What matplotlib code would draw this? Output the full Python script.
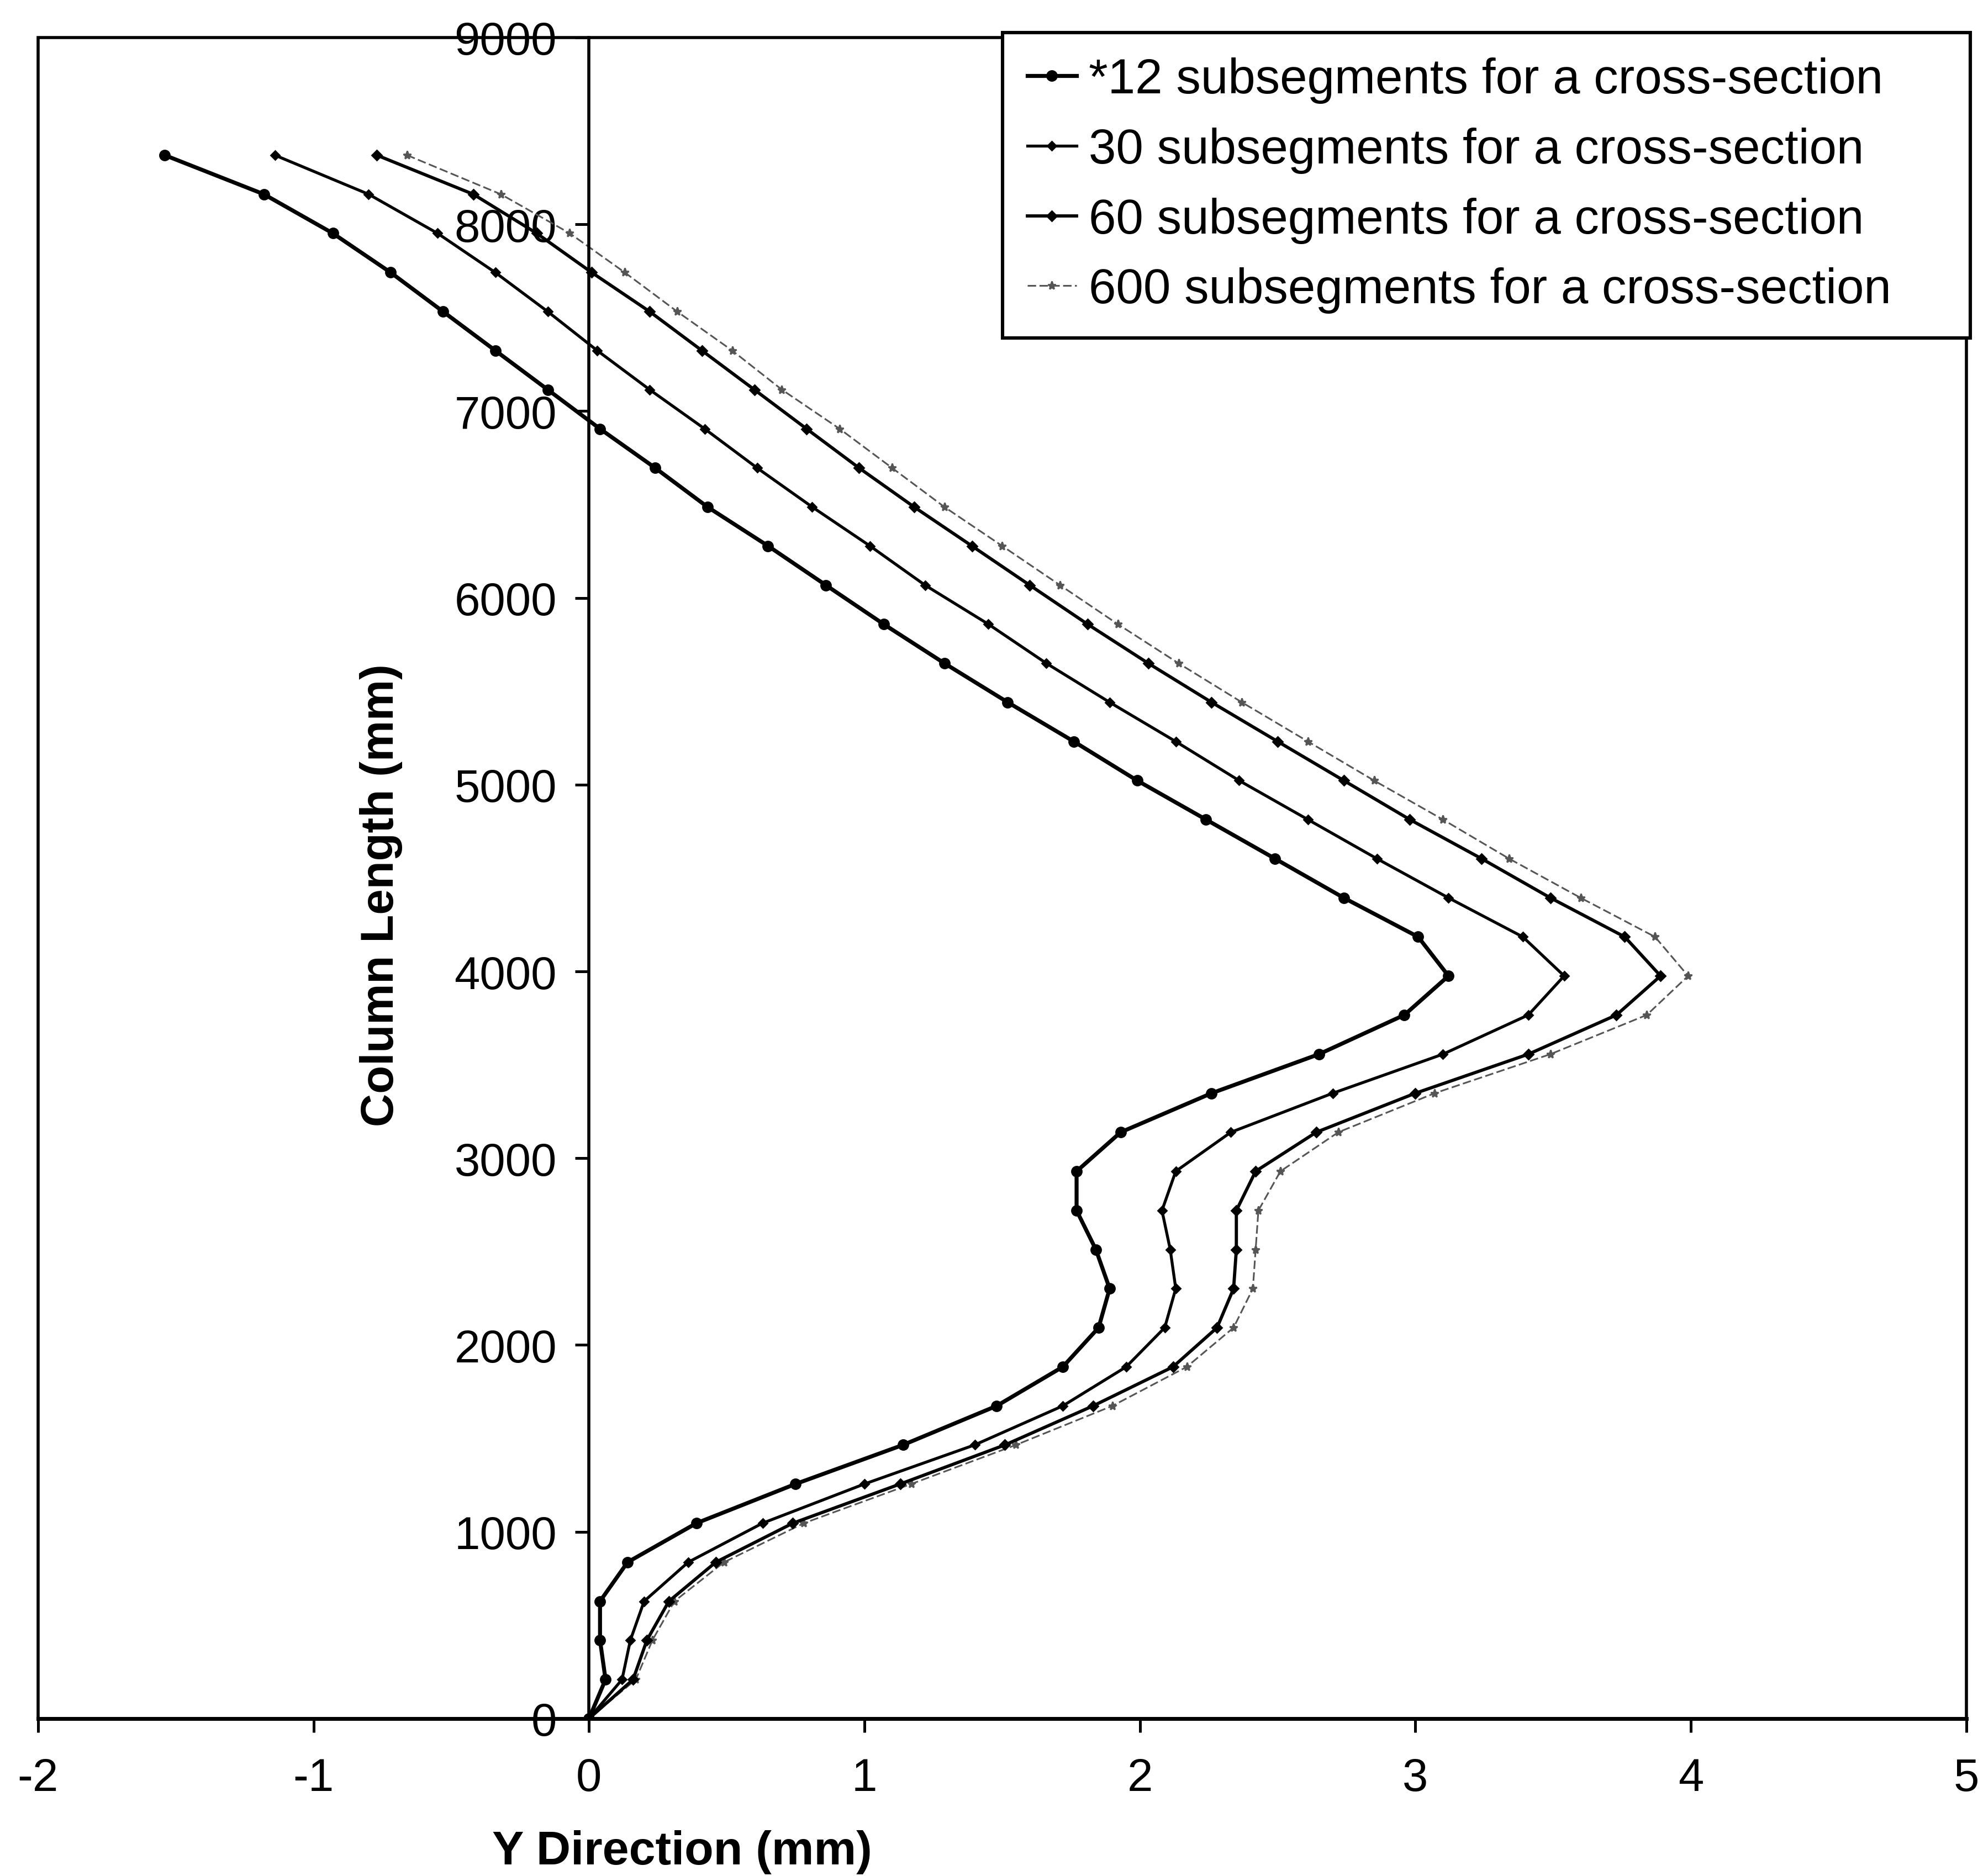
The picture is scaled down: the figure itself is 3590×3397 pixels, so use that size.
"""Column lateral deflection for different cross-section discretisations."""

import matplotlib
matplotlib.use("Agg")
import matplotlib.pyplot as plt
from matplotlib.patches import Rectangle

plt.rcParams["font.family"] = ["Liberation Sans", "DejaVu Sans"]
plt.rcParams["axes.unicode_minus"] = False

# column heights of the sampled nodes (mm)
col_length = [0, 209, 419, 628, 837, 1046, 1256, 1465, 1674, 1883,
              2093, 2302, 2511, 2720, 2930, 3139, 3348, 3557, 3767, 3976,
              4185, 4394, 4604, 4813, 5022, 5231, 5441, 5650, 5859, 6068,
              6278, 6487, 6696, 6905, 7115, 7324, 7533, 7742, 7952, 8161,
              8370]

# Y-direction deflection (mm) per discretisation
seg_12 = [0.00, 0.06, 0.04, 0.04, 0.14, 0.39, 0.75, 1.14, 1.48, 1.72,
          1.85, 1.89, 1.84, 1.77, 1.77, 1.93, 2.26, 2.65, 2.96, 3.12,
          3.01, 2.74, 2.49, 2.24, 1.99, 1.76, 1.52, 1.29, 1.07, 0.86,
          0.65, 0.43, 0.24, 0.04, -0.15, -0.34, -0.53, -0.72, -0.93, -1.18,
          -1.54]
seg_30 = [0.00, 0.12, 0.15, 0.20, 0.36, 0.63, 1.00, 1.40, 1.72, 1.95,
          2.09, 2.13, 2.11, 2.08, 2.13, 2.33, 2.70, 3.10, 3.41, 3.54,
          3.39, 3.12, 2.86, 2.61, 2.36, 2.13, 1.89, 1.66, 1.45, 1.22,
          1.02, 0.81, 0.61, 0.42, 0.22, 0.03, -0.15, -0.34, -0.55, -0.80,
          -1.14]
seg_60 = [0.00, 0.16, 0.21, 0.29, 0.46, 0.74, 1.13, 1.51, 1.83, 2.12,
          2.28, 2.34, 2.35, 2.35, 2.42, 2.64, 3.00, 3.41, 3.73, 3.89,
          3.76, 3.49, 3.24, 2.98, 2.74, 2.50, 2.26, 2.03, 1.81, 1.60,
          1.39, 1.18, 0.98, 0.79, 0.60, 0.41, 0.22, 0.01, -0.19, -0.42,
          -0.77]
seg_600 = [0.00, 0.17, 0.23, 0.31, 0.49, 0.78, 1.17, 1.55, 1.90, 2.17,
           2.34, 2.41, 2.42, 2.43, 2.51, 2.72, 3.07, 3.49, 3.84, 3.99,
           3.87, 3.60, 3.34, 3.10, 2.85, 2.61, 2.37, 2.14, 1.92, 1.71,
           1.50, 1.29, 1.10, 0.91, 0.70, 0.52, 0.32, 0.13, -0.07, -0.32,
           -0.66]

labels = ["*12 subsegments for a cross-section",
          "30 subsegments for a cross-section",
          "60 subsegments for a cross-section",
          "600 subsegments for a cross-section"]

x_ticks = [-2, -1, 0, 1, 2, 3, 4, 5]
y_ticks = [0, 1000, 2000, 3000, 4000, 5000, 6000, 7000, 8000, 9000]

fig = plt.figure(figsize=(17.95, 16.99), dpi=200)
ax = fig.add_axes([0.0192, 0.0839, 0.9724, 0.8958])

ax.plot(seg_12, col_length, color="black", lw=2.6, marker="o", ms=6.5,
        label=labels[0], zorder=4)
ax.plot(seg_30, col_length, color="black", lw=1.9, marker="D", ms=4,
        label=labels[1], zorder=3)
ax.plot(seg_60, col_length, color="black", lw=2.1, marker="D", ms=4.5,
        label=labels[2], zorder=3)
ax.plot(seg_600, col_length, color="#555555", lw=1.1, ls=(0, (5, 2)),
        marker="*", ms=5.5, label=labels[3], zorder=2)

ax.set_xlim(-2, 5)
ax.set_ylim(0, 9000)

# y axis sits on x = 0, the outer box is drawn separately
ax.spines["left"].set_position(("data", 0))
ax.spines["left"].set_linewidth(2.0)
ax.spines["bottom"].set_linewidth(2.5)
for s in ("top", "right"):
    ax.spines[s].set_visible(False)
ax.add_patch(Rectangle((0, 0), 1, 1, transform=ax.transAxes, fill=False,
                       edgecolor="black", lw=2.0, clip_on=False, zorder=1))

ax.set_xticks(x_ticks)
ax.set_yticks(y_ticks)
ax.tick_params(axis="both", direction="out", length=9, width=1.8,
               labelsize=30)
ax.tick_params(axis="x", pad=16)
ax.tick_params(axis="y", pad=12)

ax.set_xlabel("Y Direction (mm)", fontsize=31, fontweight="bold")
ax.xaxis.set_label_coords(0.334, -0.066)
ax.set_ylabel("Column Length (mm)", fontsize=30, fontweight="bold")
ax.yaxis.set_label_coords(0.189, 0.49)

# expand mode keeps the wide box with the spare room on the right
leg = ax.legend(loc="upper right", bbox_to_anchor=(0.5003, 0.0, 0.5017, 1.003),
                mode="expand", fontsize=32, frameon=True, fancybox=False,
                handlelength=1.0, handletextpad=0.25, labelspacing=0.48,
                borderpad=0.5, borderaxespad=0)
leg.get_frame().set_edgecolor("black")
leg.get_frame().set_linewidth(2.2)
leg.get_frame().set_alpha(1)

fig.savefig("out.png", dpi=200)
